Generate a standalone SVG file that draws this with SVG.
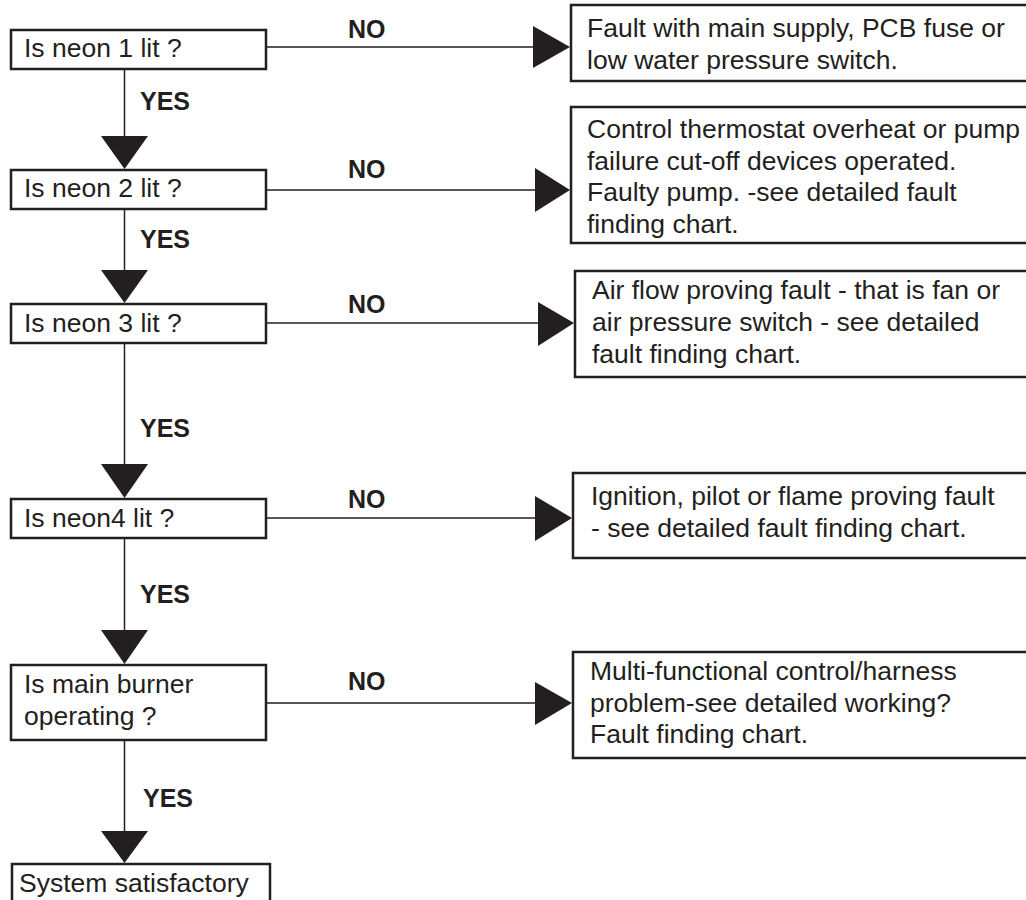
<svg xmlns="http://www.w3.org/2000/svg" width="1026" height="900" viewBox="0 0 1026 900">
<style>
.box{fill:#fff;stroke:#231f20;stroke-width:2.5}
.t{font-family:"Liberation Sans",Arial,sans-serif;font-size:26.5px;fill:#231f20}
.lbl{font-family:"Liberation Sans",Arial,sans-serif;font-size:25px;font-weight:bold;fill:#231f20}
.ln{stroke:#231f20;stroke-width:1.5;fill:none}
.ah{fill:#231f20}
</style>
<rect width="1026" height="900" fill="#fff"/>
<g id="connectors">
<line class="ln" x1="124.5" y1="69" x2="124.5" y2="140"/>
<polygon class="ah" points="101,136 148,136 124.5,169"/>
<line class="ln" x1="124.5" y1="209" x2="124.5" y2="274"/>
<polygon class="ah" points="101,270 148,270 124.5,303"/>
<line class="ln" x1="124.5" y1="343" x2="124.5" y2="468"/>
<polygon class="ah" points="101,464 148,464 124.5,498"/>
<line class="ln" x1="124.5" y1="538" x2="124.5" y2="634"/>
<polygon class="ah" points="101,630 148,630 124.5,664"/>
<line class="ln" x1="124.5" y1="740" x2="124.5" y2="835"/>
<polygon class="ah" points="101,831 148,831 124.5,863"/>
<line class="ln" x1="266" y1="47" x2="536" y2="47"/>
<polygon class="ah" points="533,26 533,68 570,47"/>
<line class="ln" x1="266" y1="190" x2="538" y2="190"/>
<polygon class="ah" points="535,168 535,212 570,190"/>
<line class="ln" x1="266" y1="323" x2="540" y2="323"/>
<polygon class="ah" points="538,302 538,346 574,323"/>
<line class="ln" x1="266" y1="518" x2="538" y2="518"/>
<polygon class="ah" points="535,496 535,541 572,518"/>
<line class="ln" x1="266" y1="703" x2="538" y2="703"/>
<polygon class="ah" points="535,682 535,725 572,703"/>
<text class="lbl" x="140" y="110">YES</text>
<text class="lbl" x="140" y="248">YES</text>
<text class="lbl" x="140" y="437">YES</text>
<text class="lbl" x="140" y="603">YES</text>
<text class="lbl" x="143" y="807">YES</text>
<text class="lbl" x="348" y="38">NO</text>
<text class="lbl" x="348" y="178">NO</text>
<text class="lbl" x="348" y="313">NO</text>
<text class="lbl" x="348" y="508">NO</text>
<text class="lbl" x="348" y="690">NO</text>
</g>
<g id="q1"><rect class="box" x="11" y="30" width="255" height="39"/><text class="t" x="24" y="57">Is neon 1 lit ?</text></g>
<g id="q2"><rect class="box" x="11" y="170" width="255" height="39"/><text class="t" x="24" y="197">Is neon 2 lit ?</text></g>
<g id="q3"><rect class="box" x="11" y="304" width="255" height="39"/><text class="t" x="24" y="332">Is neon 3 lit ?</text></g>
<g id="q4"><rect class="box" x="11" y="499" width="255" height="39"/><text class="t" x="24" y="527">Is neon4 lit ?</text></g>
<g id="q5"><rect class="box" x="11" y="665" width="255" height="75"/><text class="t" x="24" y="693">Is main burner</text><text class="t" x="24" y="725">operating ?</text></g>
<g id="end"><rect class="box" x="12" y="864" width="258" height="60"/><text class="t" x="19" y="892">System satisfactory</text></g>
<g id="r1"><rect class="box" x="571" y="5" width="470" height="76"/><text class="t" x="587" y="37">Fault with main supply, PCB fuse or</text><text class="t" x="587" y="69">low water pressure switch.</text></g>
<g id="r2"><rect class="box" x="571" y="107" width="470" height="136"/><text class="t" x="587" y="138">Control thermostat overheat or pump</text><text class="t" x="587" y="169.5">failure cut-off devices operated.</text><text class="t" x="587" y="201">Faulty pump. -see detailed fault</text><text class="t" x="587" y="232.5">finding chart.</text></g>
<g id="r3"><rect class="box" x="575" y="271" width="470" height="106"/><text class="t" x="592" y="299">Air flow proving fault - that is fan or</text><text class="t" x="592" y="331">air pressure switch - see detailed</text><text class="t" x="592" y="363">fault finding chart.</text></g>
<g id="r4"><rect class="box" x="573" y="473" width="470" height="85"/><text class="t" x="591" y="505">Ignition, pilot or flame proving fault</text><text class="t" x="591" y="537">- see detailed fault finding chart.</text></g>
<g id="r5"><rect class="box" x="573" y="652" width="470" height="106"/><text class="t" x="590" y="680">Multi-functional control/harness</text><text class="t" x="590" y="712">problem-see detailed working?</text><text class="t" x="590" y="743">Fault finding chart.</text></g>
</svg>
